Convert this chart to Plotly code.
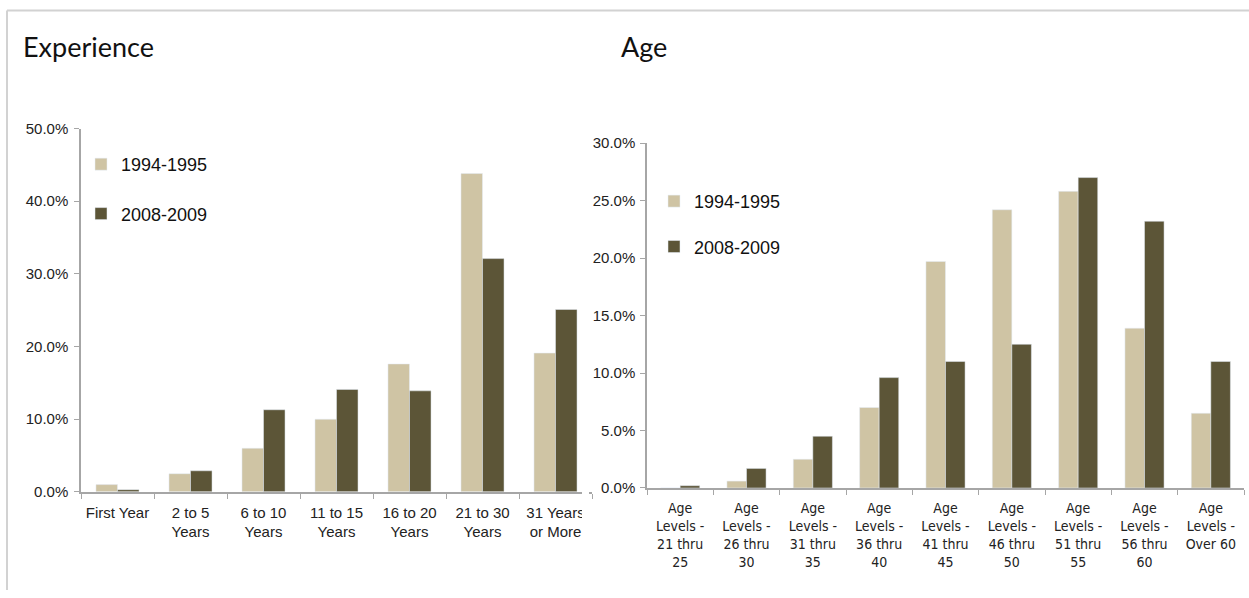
import plotly.graph_objects as go

W, H = 1249, 598

# Experience panel
exp_categories = ["First Year", "2 to 5<br>Years", "6 to 10<br>Years", "11 to 15<br>Years",
                  "16 to 20<br>Years", "21 to 30<br>Years", "31 Years<br>or More"]
exp_1994_1995 = [0.010, 0.025, 0.060, 0.100, 0.176, 0.438, 0.191]
exp_2008_2009 = [0.003, 0.029, 0.113, 0.141, 0.139, 0.321, 0.251]

# Age panel
age_categories = ["Age<br>Levels -<br>21 thru<br>25", "Age<br>Levels -<br>26 thru<br>30",
                  "Age<br>Levels -<br>31 thru<br>35", "Age<br>Levels -<br>36 thru<br>40",
                  "Age<br>Levels -<br>41 thru<br>45", "Age<br>Levels -<br>46 thru<br>50",
                  "Age<br>Levels -<br>51 thru<br>55", "Age<br>Levels -<br>56 thru<br>60",
                  "Age<br>Levels -<br>Over 60"]
age_1994_1995 = [0.000, 0.006, 0.025, 0.070, 0.197, 0.242, 0.258, 0.139, 0.065]
age_2008_2009 = [0.002, 0.017, 0.045, 0.096, 0.110, 0.125, 0.270, 0.232, 0.110]

series_names = ["1994-1995", "2008-2009"]
LIGHT = "#CFC4A4"
DARK = "#5C5537"
AXIS = "#A6A6A6"
TICK_FONT = dict(family="Liberation Sans, Arial, sans-serif", size=15, color="#222222")
NARROW_FONT = dict(family="DejaVu Sans Condensed, Liberation Sans Narrow, sans-serif",
                   size=14, color="#222222")
LEGEND_FONT = dict(family="Liberation Sans, Arial, sans-serif", size=18, color="#111111")
TITLE_FONT = dict(family="Lato, Noto Sans, sans-serif", size=27, color="#111111")


def px_x(x):
    return x / W


def px_y(y):
    return 1 - y / H


fig = go.Figure()

for name, vals, col, grp in [(series_names[0], exp_1994_1995, LIGHT, "a"),
                             (series_names[1], exp_2008_2009, DARK, "b")]:
    fig.add_trace(go.Bar(x=exp_categories, y=vals, name=name, marker_color=col,
                         xaxis="x", yaxis="y", legend="legend", legendgroup="e" + grp))

for name, vals, col, grp in [(series_names[0], age_1994_1995, LIGHT, "a"),
                             (series_names[1], age_2008_2009, DARK, "b")]:
    fig.add_trace(go.Bar(x=age_categories, y=vals, name=name, marker_color=col,
                         xaxis="x2", yaxis="y2", legend="legend2", legendgroup="g" + grp))

common_x = dict(type="category", showline=True, linecolor=AXIS, linewidth=1.5,
                ticks="outside", tickson="boundaries", ticklen=5, tickcolor=AXIS,
                ticklabelstandoff=6, showgrid=False, zeroline=False, fixedrange=True)
common_y = dict(showline=True, linecolor=AXIS, linewidth=1.5, ticks="outside",
                ticklen=5, tickcolor=AXIS, showgrid=False, zeroline=False,
                tickformat=".1%", fixedrange=True)

fig.update_layout(
    width=W, height=H,
    margin=dict(l=0, r=0, t=0, b=0),
    paper_bgcolor="white", plot_bgcolor="white",
    barmode="group",
    bargap=0.41,
    xaxis=dict(domain=[px_x(81), px_x(592)], anchor="y", tickfont=TICK_FONT, **common_x),
    yaxis=dict(domain=[px_y(497), px_y(123)], anchor="x", range=[0, 0.5], dtick=0.1,
               tickfont=TICK_FONT, ticklabelstandoff=3, **common_y),
    xaxis2=dict(domain=[px_x(647), px_x(1244)], anchor="y2", tickfont=NARROW_FONT, **common_x),
    yaxis2=dict(domain=[px_y(493), px_y(138)], anchor="x2", range=[0, 0.30], dtick=0.05,
                tickfont=TICK_FONT, ticklabelstandoff=2, **common_y),
    legend=dict(x=px_x(81), y=px_y(141), xanchor="left", yanchor="top",
                traceorder="grouped", tracegroupgap=23, bgcolor="rgba(0,0,0,0)",
                font=LEGEND_FONT),
    legend2=dict(x=px_x(654), y=px_y(179), xanchor="left", yanchor="top",
                 traceorder="grouped", tracegroupgap=19, bgcolor="rgba(0,0,0,0)",
                 font=LEGEND_FONT),
    annotations=[
        dict(text="Experience", x=px_x(21), y=px_y(39), xref="paper", yref="paper",
             xanchor="left", yanchor="middle", showarrow=False, font=TITLE_FONT),
        dict(text="Age", x=px_x(619), y=px_y(39), xref="paper", yref="paper",
             xanchor="left", yanchor="middle", showarrow=False, font=TITLE_FONT),
    ],
    shapes=[
        # page frame (top and left edges)
        dict(type="line", xref="paper", yref="paper", x0=px_x(7), x1=1, y0=px_y(1.5), y1=px_y(1.5),
             line=dict(color="#D2D2D2", width=2)),
        dict(type="line", xref="paper", yref="paper", x0=px_x(7), x1=px_x(7), y0=0, y1=px_y(1.5),
             line=dict(color="#D2D2D2", width=2)),
        # right edge of the experience panel is cropped
        dict(type="rect", xref="paper", yref="paper", x0=px_x(582), x1=px_x(589),
             y0=px_y(575), y1=px_y(110), fillcolor="white", line=dict(width=0), layer="above"),
    ],
)

fig.write_html("out.html")
